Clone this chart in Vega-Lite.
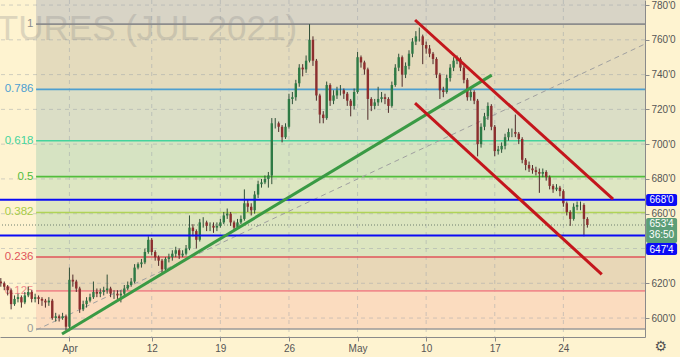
{
"$schema": "https://vega.github.io/schema/vega-lite/v6.json",
"width": 645, "height": 337,
"autosize": {"type": "none"},
"padding": {"left": 0, "top": 0, "right": 35, "bottom": 20},
"background": "#fef3d0",
"config": {"view": {"stroke": null}, "font": "Liberation Sans", "axis": {"labelFont": "Liberation Sans", "title": null, "grid": false, "labelOverlap": false}, "axisY": {"labelOverlap": false}, "axisRight": {"labelOverlap": false}},
"datasets": {
"bands": [{"band":"a","lo":769.0,"hi":782.9},{"band":"b","lo":731.5,"hi":769.0},{"band":"c","lo":702.0,"hi":731.5},{"band":"d","lo":681.35,"hi":702.0},{"band":"e","lo":660.7,"hi":681.35},{"band":"f","lo":635.1,"hi":660.7},{"band":"g","lo":615.6,"hi":635.1},{"band":"h","lo":593.7,"hi":615.6}],
"fib": [{"lvl":"1","p":769.0},{"lvl":"0.786","p":731.5},{"lvl":"0.618","p":702.0},{"lvl":"0.5","p":681.35},{"lvl":"0.382","p":660.7},{"lvl":"0.236","p":635.1},{"lvl":"0.125","p":615.6},{"lvl":"0","p":593.7}],
"xt": [{"t":0},{"t":6},{"t":11},{"t":16},{"t":21},{"t":26},{"t":31},{"t":36}],
"yt": [{"p":600},{"p":620},{"p":640},{"p":660},{"p":680},{"p":700},{"p":720},{"p":740},{"p":760},{"p":780}],
"segs": [{"id":"green","t":-0.54,"p":590.8,"t2":30.78,"p2":739.7},{"id":"red","t":25.19,"p":771.4,"t2":39.62,"p2":668.4},{"id":"red","t":25.19,"p":723.6,"t2":38.8,"p2":625.1},{"id":"trend","t":-2.43,"p":593.1,"t2":41.95,"p2":757.6}],
"candles": [
{"t":-5,"o":621,"h":623,"l":618,"c":620},{"t":-4.75,"o":620,"h":621,"l":616,"c":618},{"t":-4.5,"o":618,"h":619,"l":613,"c":616},{"t":-4.25,"o":616,"h":617,"l":605,"c":608},{"t":-4,"o":608,"h":613,"l":607,"c":611},{"t":-3.75,"o":611,"h":614,"l":609,"c":612},{"t":-3.5,"o":612,"h":613,"l":606,"c":609},{"t":-3.25,"o":609,"h":615,"l":608,"c":613},{"t":-3,"o":613,"h":618,"l":612,"c":615},{"t":-2.75,"o":615,"h":616,"l":609,"c":611},{"t":-2.5,"o":611,"h":614,"l":609,"c":612},{"t":-2.25,"o":612,"h":613,"l":608,"c":611},{"t":-2,"o":611,"h":612,"l":607,"c":610},{"t":-1.75,"o":610,"h":611,"l":606,"c":609},{"t":-1.5,"o":609,"h":612,"l":607,"c":610},{"t":-1.25,"o":610,"h":611,"l":599,"c":600},{"t":-1,"o":600,"h":603,"l":598,"c":601},{"t":-0.75,"o":601,"h":602,"l":598,"c":600},{"t":-0.5,"o":600,"h":603,"l":599,"c":601},{"t":-0.25,"o":601,"h":602,"l":593,"c":595},
{"t":0,"o":595,"h":629,"l":593,"c":622},{"t":0.25,"o":622,"h":625,"l":618,"c":621},{"t":0.5,"o":621,"h":622,"l":615,"c":617},{"t":0.75,"o":617,"h":618,"l":603,"c":605},{"t":1,"o":605,"h":610,"l":604,"c":608},{"t":1.25,"o":608,"h":612,"l":606,"c":610},{"t":1.5,"o":610,"h":614,"l":609,"c":612},{"t":1.75,"o":612,"h":621,"l":611,"c":615},{"t":2,"o":615,"h":617,"l":612,"c":614},{"t":2.25,"o":614,"h":617,"l":612,"c":615},{"t":2.5,"o":615,"h":618,"l":613,"c":616},{"t":2.75,"o":616,"h":625,"l":614,"c":617},{"t":3,"o":617,"h":618,"l":612,"c":614},{"t":3.25,"o":614,"h":616,"l":611,"c":614},{"t":3.5,"o":614,"h":616,"l":611,"c":613},{"t":3.75,"o":613,"h":616,"l":609,"c":614},{"t":4,"o":614,"h":619,"l":613,"c":617},{"t":4.25,"o":617,"h":621,"l":616,"c":619},{"t":4.5,"o":619,"h":623,"l":618,"c":621},{"t":4.75,"o":621,"h":631,"l":620,"c":629},
{"t":5,"o":629,"h":632,"l":628,"c":631},{"t":5.25,"o":631,"h":634,"l":629,"c":632},{"t":5.5,"o":632,"h":640,"l":631,"c":638},{"t":5.75,"o":638,"h":647,"l":637,"c":645},{"t":6,"o":645,"h":646,"l":636,"c":638},{"t":6.25,"o":638,"h":639,"l":633,"c":635},{"t":6.5,"o":635,"h":636,"l":630,"c":633},{"t":6.75,"o":633,"h":634,"l":626,"c":628},{"t":7,"o":628,"h":635,"l":627,"c":634},{"t":7.25,"o":634,"h":637,"l":632,"c":635},{"t":7.5,"o":635,"h":639,"l":633,"c":637},{"t":7.75,"o":637,"h":641,"l":635,"c":639},{"t":8,"o":639,"h":640,"l":634,"c":636},{"t":8.25,"o":636,"h":639,"l":635,"c":637},{"t":8.5,"o":637,"h":642,"l":636,"c":640},{"t":8.75,"o":640,"h":659,"l":639,"c":652},{"t":9,"o":652,"h":654,"l":647,"c":650},{"t":9.25,"o":650,"h":651,"l":640,"c":645},{"t":9.5,"o":645,"h":657,"l":644,"c":655},{"t":9.75,"o":655,"h":658,"l":652,"c":655},
{"t":10,"o":655,"h":656,"l":650,"c":653},{"t":10.25,"o":653,"h":655,"l":650,"c":653},{"t":10.5,"o":653,"h":655,"l":649,"c":652},{"t":10.75,"o":652,"h":655,"l":650,"c":653},{"t":11,"o":653,"h":657,"l":652,"c":655},{"t":11.25,"o":655,"h":661,"l":654,"c":659},{"t":11.5,"o":659,"h":663,"l":657,"c":660},{"t":11.75,"o":660,"h":661,"l":653,"c":655},{"t":12,"o":655,"h":656,"l":650,"c":652},{"t":12.25,"o":652,"h":657,"l":651,"c":655},{"t":12.5,"o":655,"h":659,"l":654,"c":657},{"t":12.75,"o":657,"h":674,"l":656,"c":666},{"t":13,"o":666,"h":668,"l":661,"c":664},{"t":13.25,"o":664,"h":666,"l":659,"c":662},{"t":13.5,"o":662,"h":673,"l":660,"c":671},{"t":13.75,"o":671,"h":679,"l":669,"c":677},{"t":14,"o":677,"h":680,"l":675,"c":678},{"t":14.25,"o":678,"h":682,"l":677,"c":680},{"t":14.5,"o":680,"h":684,"l":675,"c":682},{"t":14.75,"o":682,"h":715,"l":677,"c":712},
{"t":15,"o":712,"h":715,"l":709,"c":712},{"t":15.25,"o":712,"h":713,"l":707,"c":710},{"t":15.5,"o":710,"h":711,"l":701,"c":704},{"t":15.75,"o":704,"h":712,"l":703,"c":710},{"t":16,"o":710,"h":729,"l":709,"c":726},{"t":16.25,"o":726,"h":730,"l":723,"c":727},{"t":16.5,"o":727,"h":737,"l":725,"c":735},{"t":16.75,"o":735,"h":746,"l":733,"c":744},{"t":17,"o":744,"h":746,"l":739,"c":743},{"t":17.25,"o":743,"h":751,"l":741,"c":748},{"t":17.5,"o":748,"h":769,"l":747,"c":760},{"t":17.75,"o":760,"h":762,"l":745,"c":748},{"t":18,"o":748,"h":749,"l":725,"c":728},{"t":18.25,"o":728,"h":729,"l":712,"c":717},{"t":18.5,"o":717,"h":719,"l":712,"c":715},{"t":18.75,"o":715,"h":736,"l":714,"c":734},{"t":19,"o":734,"h":735,"l":722,"c":725},{"t":19.25,"o":725,"h":731,"l":723,"c":728},{"t":19.5,"o":728,"h":733,"l":726,"c":731},{"t":19.75,"o":731,"h":734,"l":728,"c":731},
{"t":20,"o":731,"h":732,"l":726,"c":729},{"t":20.25,"o":729,"h":730,"l":722,"c":725},{"t":20.5,"o":725,"h":726,"l":716,"c":722},{"t":20.75,"o":722,"h":732,"l":720,"c":730},{"t":21,"o":730,"h":753,"l":729,"c":750},{"t":21.25,"o":750,"h":751,"l":744,"c":747},{"t":21.5,"o":747,"h":748,"l":740,"c":743},{"t":21.75,"o":743,"h":744,"l":714,"c":726},{"t":22,"o":726,"h":727,"l":719,"c":722},{"t":22.25,"o":722,"h":726,"l":720,"c":724},{"t":22.5,"o":724,"h":733,"l":722,"c":726},{"t":22.75,"o":726,"h":730,"l":724,"c":727},{"t":23,"o":727,"h":729,"l":723,"c":726},{"t":23.25,"o":726,"h":727,"l":718,"c":722},{"t":23.5,"o":722,"h":736,"l":721,"c":734},{"t":23.75,"o":734,"h":746,"l":733,"c":744},{"t":24,"o":744,"h":752,"l":742,"c":750},{"t":24.25,"o":750,"h":751,"l":733,"c":740},{"t":24.5,"o":740,"h":747,"l":738,"c":745},{"t":24.75,"o":745,"h":754,"l":743,"c":752},
{"t":25,"o":752,"h":761,"l":750,"c":759},{"t":25.25,"o":759,"h":765,"l":757,"c":762},{"t":25.5,"o":762,"h":767,"l":759,"c":762},{"t":25.75,"o":762,"h":763,"l":746,"c":757},{"t":26,"o":757,"h":759,"l":752,"c":755},{"t":26.25,"o":755,"h":757,"l":750,"c":752},{"t":26.5,"o":752,"h":753,"l":746,"c":749},{"t":26.75,"o":749,"h":750,"l":738,"c":740},{"t":27,"o":740,"h":741,"l":726,"c":731},{"t":27.25,"o":731,"h":733,"l":727,"c":730},{"t":27.5,"o":730,"h":740,"l":729,"c":738},{"t":27.75,"o":738,"h":746,"l":736,"c":744},{"t":28,"o":744,"h":750,"l":742,"c":748},{"t":28.25,"o":748,"h":751,"l":746,"c":749},{"t":28.5,"o":749,"h":750,"l":742,"c":744},{"t":28.75,"o":744,"h":745,"l":735,"c":737},{"t":29,"o":737,"h":738,"l":725,"c":727},{"t":29.25,"o":727,"h":732,"l":725,"c":730},{"t":29.5,"o":730,"h":731,"l":723,"c":725},{"t":29.75,"o":725,"h":726,"l":693,"c":700},
{"t":30,"o":700,"h":712,"l":698,"c":710},{"t":30.25,"o":710,"h":718,"l":708,"c":716},{"t":30.5,"o":716,"h":724,"l":714,"c":722},{"t":30.75,"o":722,"h":723,"l":708,"c":710},{"t":31,"o":710,"h":711,"l":693,"c":696},{"t":31.25,"o":696,"h":699,"l":694,"c":697},{"t":31.5,"o":697,"h":701,"l":695,"c":699},{"t":31.75,"o":699,"h":706,"l":697,"c":704},{"t":32,"o":704,"h":709,"l":702,"c":707},{"t":32.25,"o":707,"h":709,"l":704,"c":707},{"t":32.5,"o":707,"h":717,"l":704,"c":706},{"t":32.75,"o":706,"h":707,"l":700,"c":703},{"t":33,"o":703,"h":704,"l":689,"c":691},{"t":33.25,"o":691,"h":692,"l":685,"c":688},{"t":33.5,"o":688,"h":690,"l":684,"c":686},{"t":33.75,"o":686,"h":688,"l":683,"c":685},{"t":34,"o":685,"h":687,"l":682,"c":684},{"t":34.25,"o":684,"h":686,"l":672,"c":683},{"t":34.5,"o":683,"h":686,"l":681,"c":684},{"t":34.75,"o":684,"h":685,"l":679,"c":681},
{"t":35,"o":681,"h":682,"l":674,"c":676},{"t":35.25,"o":676,"h":677,"l":672,"c":674},{"t":35.5,"o":674,"h":677,"l":673,"c":675},{"t":35.75,"o":675,"h":676,"l":670,"c":673},{"t":36,"o":673,"h":674,"l":664,"c":666},{"t":36.25,"o":666,"h":667,"l":659,"c":661},{"t":36.5,"o":661,"h":662,"l":653,"c":657},{"t":36.75,"o":657,"h":666,"l":656,"c":664},{"t":37,"o":664,"h":667,"l":662,"c":665},{"t":37.25,"o":665,"h":667,"l":662,"c":665},{"t":37.5,"o":665,"h":666,"l":647,"c":657},{"t":37.75,"o":657,"h":658,"l":652,"c":653.5}
],
"boxes": [{"kind":"b1","lo":664.4,"hi":671.3},{"kind":"g","lo":643.1,"hi":657.5},{"kind":"b2","lo":636.2,"hi":643.1}],
"tags": [{"txt":"668'0","p":668.0},{"txt":"653'4","p":654.2},{"txt":"36:50","p":647.9},{"txt":"647'4","p":639.4}]
},
"layer": [
{"data": {"name": "xt"},
 "mark": {"type": "rule", "strokeOpacity": 0},
 "encoding": {
  "x": {"field": "t", "type": "quantitative", "scale": {"domain": [-5.06, 41.95], "nice": false, "zero": false},
   "axis": {"title": null, "grid": false, "orient": "bottom", "values": [0,6,11,16,21,26,31,36],
    "labelExpr": "datum.value==0?'Apr':datum.value==6?'12':datum.value==11?'19':datum.value==16?'26':datum.value==21?'May':datum.value==26?'10':datum.value==31?'17':'24'",
    "domainColor": "#8a8a8a", "tickColor": "#8a8a8a", "tickSize": 4, "labelFontSize": 10, "labelColor": "#555555", "labelPadding": 2, "labelFlush": false, "labelOverlap": false}}
 }},
{"data": {"name": "yt"},
 "mark": {"type": "rule", "strokeOpacity": 0},
 "encoding": {
  "y": {"field": "p", "type": "quantitative", "scale": {"domain": [589.1, 782.9], "nice": false, "zero": false},
   "axis": {"title": null, "grid": false, "orient": "right", "values": [600,620,640,660,680,700,720,740,760,780], "tickCount": 10,
    "labelExpr": "format(datum.value, 'd') + \"'0\"",
    "domainColor": "#8a8a8a", "tickColor": "#8a8a8a", "tickSize": 4, "labelFontSize": 10, "labelColor": "#555555", "labelPadding": 2, "labelFlush": false, "labelOverlap": false, "labelSeparation": 0}}
 }},
{"data": {"name": "bands"}, "mark": {"type": "rect"},
 "encoding": {
  "x": {"datum": -2.43, "type": "quantitative", "scale": {"domain": [-5.06, 41.95], "nice": false, "zero": false}},
  "x2": {"datum": 41.95},
  "y": {"field": "lo", "type": "quantitative", "scale": {"domain": [589.1, 782.9], "nice": false, "zero": false}},
  "y2": {"field": "hi"},
  "fill": {"field": "band", "type": "nominal", "legend": null, "scale": {"domain": ["a","b","c","d","e","f","g","h"], "range": ["#d8d4c6","#e4dbbd","#dbdec6","#d6e3c2","#dde6c2","#dce5c0","#e8d7b7","#fbdcbf"]}}
 }},
{"data": {"name": "xt"},
 "mark": {"type": "rule", "stroke": "#9aa0a8", "strokeOpacity": 0.45, "strokeDash": [4, 4], "strokeWidth": 1},
 "encoding": {
  "x": {"field": "t", "type": "quantitative", "scale": {"domain": [-5.06, 41.95], "nice": false, "zero": false}}
 }},
{"data": {"name": "yt"},
 "mark": {"type": "rule", "stroke": "#9aa0a8", "strokeOpacity": 0.45, "strokeDash": [4, 4], "strokeWidth": 1},
 "encoding": {
  "y": {"field": "p", "type": "quantitative", "scale": {"domain": [589.1, 782.9], "nice": false, "zero": false}}
 }},
{"data": {"values": [{"txt": "WHEAT FUTURES (JUL 2021)", "t": 16.59, "p": 759.9}]},
 "mark": {"type": "text", "align": "right", "baseline": "alphabetic", "fontSize": 35, "font": "Liberation Sans", "fill": "#8a8a8a", "opacity": 0.28},
 "encoding": {
  "x": {"field": "t", "type": "quantitative", "scale": {"domain": [-5.06, 41.95], "nice": false, "zero": false}},
  "y": {"field": "p", "type": "quantitative", "scale": {"domain": [589.1, 782.9], "nice": false, "zero": false}},
  "text": {"field": "txt"}
 }},
{"data": {"name": "fib"}, "mark": {"type": "rule", "strokeWidth": 1.6},
 "encoding": {
  "x": {"datum": -2.43, "type": "quantitative", "scale": {"domain": [-5.06, 41.95], "nice": false, "zero": false}},
  "x2": {"datum": 41.95},
  "y": {"field": "p", "type": "quantitative", "scale": {"domain": [589.1, 782.9], "nice": false, "zero": false}},
  "stroke": {"field": "lvl", "type": "nominal", "legend": null, "scale": {"domain": ["1","0.786","0.618","0.5","0.382","0.236","0.125","0"], "range": ["#8d8d8d","#4e9fd0","#45d39c","#52bd3c","#b0d356","#e0555a","#f08c8c","#9b9b9b"]}}
 }},
{"data": {"name": "fib"}, "mark": {"type": "text", "align": "right", "baseline": "middle", "fontSize": 11.5, "font": "Liberation Sans"},
 "encoding": {
  "x": {"datum": -2.62, "type": "quantitative", "scale": {"domain": [-5.06, 41.95], "nice": false, "zero": false}},
  "y": {"field": "p", "type": "quantitative", "scale": {"domain": [589.1, 782.9], "nice": false, "zero": false}},
  "text": {"field": "lvl"},
  "color": {"field": "lvl", "type": "nominal", "legend": null, "scale": {"domain": ["1","0.786","0.618","0.5","0.382","0.236","0.125","0"], "range": ["#8d8d8d","#4e9fd0","#45d39c","#52bd3c","#a8cc48","#e0555a","#f08c8c","#9b9b9b"]}}
 }},
{"data": {"name": "segs"}, "transform": [{"filter": "datum.id == 'trend'"}],
 "mark": {"type": "rule", "stroke": "#a0a0a0", "strokeWidth": 1, "strokeDash": [5, 4]},
 "encoding": {
  "x": {"field": "t", "type": "quantitative", "scale": {"domain": [-5.06, 41.95], "nice": false, "zero": false}},
  "x2": {"field": "t2"},
  "y": {"field": "p", "type": "quantitative", "scale": {"domain": [589.1, 782.9], "nice": false, "zero": false}},
  "y2": {"field": "p2"}
 }},
{"data": {"values": [{"p": 653.5}]},
 "mark": {"type": "rule", "stroke": "#6f7f6f", "strokeWidth": 1, "strokeDash": [1, 2]},
 "encoding": {
  "y": {"field": "p", "type": "quantitative", "scale": {"domain": [589.1, 782.9], "nice": false, "zero": false}}
 }},
{"data": {"name": "candles"},
 "mark": {"type": "rule", "strokeWidth": 1},
 "encoding": {
  "x": {"field": "t", "type": "quantitative", "scale": {"domain": [-5.06, 41.95], "nice": false, "zero": false}},
  "y": {"field": "l", "type": "quantitative", "scale": {"domain": [589.1, 782.9], "nice": false, "zero": false}},
  "y2": {"field": "h"},
  "color": {"condition": {"test": "datum.c >= datum.o", "value": "#2f4f38"}, "value": "#4f2a2a"}
 }},
{"data": {"name": "candles"},
 "mark": {"type": "rule", "strokeWidth": 2.4},
 "encoding": {
  "x": {"field": "t", "type": "quantitative", "scale": {"domain": [-5.06, 41.95], "nice": false, "zero": false}},
  "y": {"field": "o", "type": "quantitative", "scale": {"domain": [589.1, 782.9], "nice": false, "zero": false}},
  "y2": {"field": "c"},
  "color": {"condition": {"test": "datum.c >= datum.o", "value": "#2e7a45"}, "value": "#8c2e2e"}
 }},
{"data": {"values": [{"p": 668.0}, {"p": 647.5}]},
 "mark": {"type": "rule", "stroke": "#0b0bf5", "strokeWidth": 2},
 "encoding": {
  "y": {"field": "p", "type": "quantitative", "scale": {"domain": [589.1, 782.9], "nice": false, "zero": false}}
 }},
{"data": {"name": "segs"}, "transform": [{"filter": "datum.id == 'green'"}],
 "mark": {"type": "rule", "stroke": "#3a9a44", "strokeWidth": 3},
 "encoding": {
  "x": {"field": "t", "type": "quantitative", "scale": {"domain": [-5.06, 41.95], "nice": false, "zero": false}},
  "x2": {"field": "t2"},
  "y": {"field": "p", "type": "quantitative", "scale": {"domain": [589.1, 782.9], "nice": false, "zero": false}},
  "y2": {"field": "p2"}
 }},
{"data": {"name": "segs"}, "transform": [{"filter": "datum.id == 'red'"}],
 "mark": {"type": "rule", "stroke": "#c4161c", "strokeWidth": 3},
 "encoding": {
  "x": {"field": "t", "type": "quantitative", "scale": {"domain": [-5.06, 41.95], "nice": false, "zero": false}},
  "x2": {"field": "t2"},
  "y": {"field": "p", "type": "quantitative", "scale": {"domain": [589.1, 782.9], "nice": false, "zero": false}},
  "y2": {"field": "p2"}
 }},
{"data": {"name": "boxes"},
 "mark": {"type": "rect", "cornerRadius": 2},
 "encoding": {
  "x": {"datum": 42.03, "type": "quantitative", "scale": {"domain": [-5.06, 41.95], "nice": false, "zero": false}},
  "x2": {"datum": 44.29},
  "y": {"field": "lo", "type": "quantitative", "scale": {"domain": [589.1, 782.9], "nice": false, "zero": false}},
  "y2": {"field": "hi"},
  "fill": {"condition": {"test": "datum.kind == 'g'", "value": "#5c9e78"}, "value": "#0b0bf5"}
 }},
{"data": {"name": "tags"},
 "mark": {"type": "text", "align": "center", "baseline": "middle", "fontSize": 10, "font": "Liberation Sans", "fill": "#ffffff"},
 "encoding": {
  "x": {"datum": 43.16, "type": "quantitative", "scale": {"domain": [-5.06, 41.95], "nice": false, "zero": false}},
  "y": {"field": "p", "type": "quantitative", "scale": {"domain": [589.1, 782.9], "nice": false, "zero": false}},
  "text": {"field": "txt"}
 }},
{"data": {"values": [{"txt": "⚙", "t": 43.1, "p": 583.3}]},
 "mark": {"type": "text", "align": "center", "baseline": "middle", "fontSize": 14, "font": "DejaVu Sans", "fill": "#555555"},
 "encoding": {
  "x": {"field": "t", "type": "quantitative", "scale": {"domain": [-5.06, 41.95], "nice": false, "zero": false}},
  "y": {"field": "p", "type": "quantitative", "scale": {"domain": [589.1, 782.9], "nice": false, "zero": false}},
  "text": {"field": "txt"}
 }}
]
}
